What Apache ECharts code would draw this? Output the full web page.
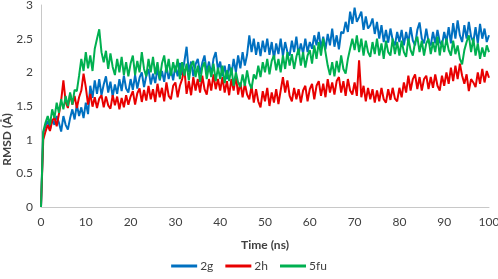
<!DOCTYPE html>
<html>
<head>
<meta charset="utf-8">
<script src="https://cdn.jsdelivr.net/npm/echarts@6/dist/echarts.min.js"></script>
<style>
  html, body { margin: 0; padding: 0; background: #fff; }
  #chart { width: 498px; height: 279px; }
</style>
</head>
<body>
<div id="chart"></div>
<script>
// sampling step of the trajectory (ns)
var timeStep = 0.5;

var seriesNames = ["2g", "2h", "5fu"];
var xTicks = [0, 10, 20, 30, 40, 50, 60, 70, 80, 90, 100];
var yTicks = [0, 0.5, 1, 1.5, 2, 2.5, 3];

// RMSD values, one value every 0.5 ns (0..100 ns)
var rmsd2g = [
  0, 1.1, 1.2, 1.28, 1.15, 1.3, 1.22, 1.35, 1.25, 1.12, 1.35, 1.22, 1.15, 1.32, 1.45, 1.3, 1.52, 1.35, 1.48, 1.32,
  1.55, 1.38, 1.8, 1.62, 1.88, 1.68, 1.9, 1.66, 1.82, 1.94, 1.7, 1.86, 1.64, 1.82, 1.68, 1.9, 1.72, 1.95, 1.76, 1.7,
  1.9, 1.74, 1.96, 1.76, 1.92, 2.0, 1.78, 1.95, 2.05, 1.82, 1.98, 1.84, 2.06, 1.88, 2.02, 1.86, 2.1, 1.9, 2.04, 1.88,
  2.1, 1.94, 2.14, 1.96, 2.16, 2.38, 2.0, 2.16, 1.94, 2.12, 2.2, 1.98, 2.14, 2.25, 2.0, 2.16, 1.96, 2.2, 2.3, 2.04,
  2.16, 1.94, 2.1, 1.9, 2.12, 1.96, 2.2, 2.0, 2.25, 2.06, 2.3, 2.1, 2.26, 2.55, 2.3, 2.5, 2.26, 2.45, 2.24, 2.47,
  2.3, 2.5, 2.26, 2.45, 2.2, 2.43, 2.27, 2.5, 2.24, 2.45, 2.3, 2.25, 2.47, 2.3, 2.53, 2.26, 2.43, 2.28, 2.5, 2.3,
  2.45, 2.35, 2.55, 2.4, 2.6, 2.36, 2.53, 2.34, 2.57, 2.4, 2.65, 2.38, 2.55, 2.34, 2.6, 2.58, 2.75, 2.6, 2.9, 2.72,
  2.96, 2.75, 2.82, 2.9, 2.63, 2.83, 2.65, 2.7, 2.8, 2.57, 2.75, 2.5, 2.7, 2.45, 2.63, 2.44, 2.65, 2.48, 2.4, 2.6,
  2.45, 2.63, 2.4, 2.6, 2.44, 2.67, 2.47, 2.4, 2.63, 2.74, 2.5, 2.43, 2.65, 2.45, 2.4, 2.6, 2.43, 2.63, 2.45, 2.4,
  2.6, 2.45, 2.67, 2.43, 2.73, 2.5, 2.77, 2.55, 2.45, 2.7, 2.5, 2.75, 2.53, 2.45, 2.67, 2.43, 2.72, 2.5, 2.65, 2.45,
  2.55
];

var rmsd2h = [
  0, 1.0, 1.12, 1.22, 1.13, 1.28, 1.33, 1.2, 1.38, 1.58, 1.88, 1.56, 1.47, 1.68, 1.52, 1.65, 1.47, 1.63, 1.73, 1.98,
  1.78, 1.52, 1.68, 1.49, 1.63, 1.47, 1.61, 1.66, 1.48, 1.64, 1.51, 1.46, 1.66, 1.51, 1.64, 1.45, 1.62, 1.48, 1.66, 1.52,
  1.64, 1.72, 1.52, 1.69, 1.76, 1.56, 1.74, 1.58, 1.8, 1.6, 1.75, 1.56, 1.83, 1.63, 1.77, 1.57, 1.85, 1.65, 1.6, 1.8,
  1.85, 1.63, 1.8, 1.9, 2.05, 1.68, 1.87, 1.66, 1.93, 1.73, 1.9, 1.7, 1.95, 1.75, 1.67, 1.9, 1.73, 1.97, 1.75, 1.9,
  1.73, 1.93, 1.7, 1.87, 1.66, 1.9, 1.73, 1.95, 1.67, 1.85, 1.63, 1.83, 1.67, 1.6, 1.8, 1.55, 1.75, 1.57, 1.48, 1.72,
  1.57, 1.77, 1.5, 1.7, 1.55, 1.75, 1.53, 1.73, 1.93, 1.7, 1.88, 1.65, 1.57, 1.77, 1.6, 1.75, 1.55, 1.73, 1.8, 1.57,
  1.75, 1.83, 1.6, 1.8, 1.87, 1.65, 1.83, 1.63, 1.9, 1.7, 1.85, 1.67, 1.87, 1.93, 1.7, 1.87, 1.65, 1.9, 1.73, 1.67,
  1.85, 1.65, 2.18, 1.63, 1.8, 1.57, 1.77, 1.6, 1.75, 1.55, 1.73, 1.57, 1.77, 1.6, 1.55, 1.75, 1.59, 1.77, 1.61, 1.57,
  1.77, 1.63, 1.85, 1.7, 1.95, 1.73, 1.9, 1.97, 1.75, 1.93, 1.73, 1.9, 1.95, 1.75, 1.93, 1.77, 1.97, 1.8, 1.73, 1.95,
  1.8, 2.0, 1.83, 2.07, 1.87, 2.1, 1.9, 2.13, 1.95, 1.83, 1.97, 1.72, 1.9, 1.85, 1.78, 2.0, 1.83, 2.05, 1.85, 2.02,
  1.92
];

var rmsd5fu = [
  0, 1.12, 1.25, 1.35, 1.22, 1.45, 1.32, 1.55, 1.4, 1.6, 1.45, 1.65, 1.5, 1.7, 1.52, 1.74, 1.72, 1.95, 2.2, 2.02,
  2.3, 2.06, 2.25, 2.02, 2.35, 2.5, 2.64, 2.3, 2.15, 2.32, 2.05, 2.28, 2.08, 1.96, 2.2, 2.0, 2.23, 1.96, 2.15, 1.94,
  2.13, 2.25, 1.96, 2.17, 2.0, 2.3, 2.05, 1.94, 2.2, 2.0, 2.23, 1.97, 2.15, 1.9, 2.13, 2.25, 2.0, 2.2, 1.95, 2.15,
  2.0, 2.2, 1.9, 2.15, 1.95, 2.13, 1.88, 2.1, 2.17, 1.93, 2.1, 1.86, 2.07, 2.15, 1.9, 2.1, 1.93, 2.13, 1.87, 2.07,
  1.9, 2.1, 1.84, 2.03, 1.87, 2.07, 1.8, 2.0, 1.85, 1.78, 1.97, 1.8, 2.03, 1.84, 1.76, 1.97, 1.9, 2.1, 1.93, 2.15,
  2.0, 2.2, 1.97, 2.17, 2.25, 2.03, 2.2, 2.0, 2.25, 2.05, 2.3, 2.1, 2.27, 2.05, 2.23, 2.35, 2.1, 2.3, 2.07, 2.25,
  2.33, 2.13, 2.4, 2.2, 2.45, 2.25, 2.5, 2.3, 2.1, 1.96, 2.15, 1.94, 2.17, 2.0, 2.25, 2.05, 1.98, 2.2, 2.35, 2.5,
  2.33, 2.55, 2.3, 2.5, 2.25, 2.47, 2.3, 2.23, 2.45, 2.27, 2.5, 2.25, 2.43, 2.2, 2.47, 2.3, 2.25, 2.5, 2.27, 2.45,
  2.25, 2.47, 2.3, 2.23, 2.5, 2.33, 2.25, 2.45, 2.53, 2.3, 2.47, 2.25, 2.43, 2.5, 2.27, 2.45, 2.3, 2.53, 2.25, 2.47,
  2.3, 2.5, 2.33, 2.25, 2.47, 2.27, 2.4, 2.2, 2.12, 2.33, 2.45, 2.55, 2.3, 2.5, 2.25, 2.43, 2.2, 2.37, 2.23, 2.4,
  2.3
];

var colors = ["#0070C0", "#E80000", "#00B050"];

function toPairs(values) {
  return values.map(function (v, i) { return [i * timeStep, v]; });
}

var chart = echarts.init(document.getElementById("chart"), null, { renderer: "canvas" });

var labelFont = "Lato, 'Open Sans', sans-serif";

chart.setOption({
  animation: false,
  color: colors,
  grid: { left: 41, right: 9, top: 5, bottom: 72, containLabel: false, outerBoundsMode: "none" },
  // y axis title drawn by hand so it sits left of the tick labels
  graphic: [{
    type: "text",
    left: 1,
    top: "center",
    rotation: Math.PI / 2,
    originX: 0,
    originY: 0,
    x: 0,
    y: -34,
    style: {
      text: "RMSD (Å)",
      font: "bold 12px Lato, 'Open Sans', sans-serif",
      fill: "#404040"
    }
  }],
  legend: {
    data: seriesNames,
    bottom: 2,
    left: "center",
    icon: "rect",
    itemWidth: 26,
    itemHeight: 3,
    itemGap: 12,
    textStyle: { fontFamily: labelFont, fontSize: 12, color: "#404040", padding: [0, 0, 0, -2] }
  },
  xAxis: {
    type: "value",
    min: xTicks[0],
    max: xTicks[xTicks.length - 1],
    interval: 10,
    name: "Time (ns)",
    nameLocation: "middle",
    nameGap: 32,
    nameTextStyle: { fontFamily: labelFont, fontSize: 12, fontWeight: "bold", color: "#404040" },
    axisLine: { show: true, lineStyle: { color: "#C8C8C8", width: 1 } },
    axisTick: { show: false },
    splitLine: { show: false },
    axisLabel: { fontFamily: labelFont, fontSize: 12, color: "#404040", margin: 9 }
  },
  yAxis: {
    type: "value",
    min: yTicks[0],
    max: yTicks[yTicks.length - 1],
    interval: 0.5,
    axisLine: { show: true, lineStyle: { color: "#C8C8C8", width: 1 } },
    axisTick: { show: false },
    splitLine: { show: false },
    axisLabel: { fontFamily: labelFont, fontSize: 12, color: "#404040", margin: 8 }
  },
  series: [
    { name: seriesNames[0], type: "line", data: toPairs(rmsd2g), showSymbol: false, lineStyle: { width: 2 } },
    { name: seriesNames[1], type: "line", data: toPairs(rmsd2h), showSymbol: false, lineStyle: { width: 2 } },
    { name: seriesNames[2], type: "line", data: toPairs(rmsd5fu), showSymbol: false, lineStyle: { width: 2 } }
  ]
});
</script>
</body>
</html>
